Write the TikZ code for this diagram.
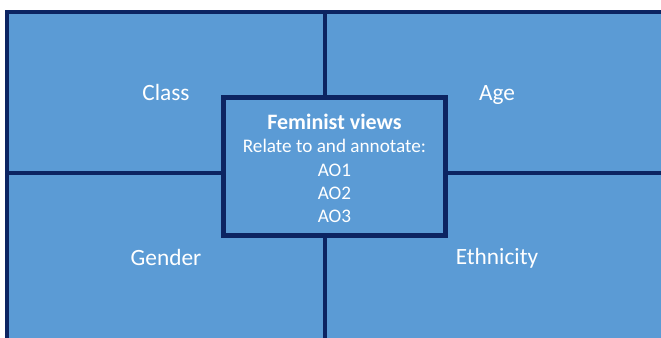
\documentclass[tikz,border=0pt]{standalone}
\usepackage{fontspec}
\setmainfont{Carlito}
\usetikzlibrary{positioning}
\definecolor{panelblue}{HTML}{5B9BD5}
\definecolor{framenavy}{HTML}{0C2462}

\begin{document}
\begin{tikzpicture}[x = 0.75pt, y = -0.75pt, % pixel grid, y downwards
                line join = miter,
                divider/.style = {draw = framenavy, line width = 3pt}
            ]

            \tikzstyle{every node}=[text = white, inner sep = 0pt,
            font = \fontsize{14.4}{17.5}\selectfont]
            \tikzstyle{quadlabel}=[anchor = base,
            font = \fontsize{17.5}{21}\selectfont]
            \tikzstyle{centrebox}=[draw = framenavy, fill = panelblue,
            line width = 3.75pt, align = center, minimum width = 166.5pt,
            minimum height = 103.5pt]

            \useasboundingbox (0,0) rectangle (661,338);
            \clip (0,0) rectangle (661,338);
            \fill[white] (0,0) rectangle (661,338);
            \filldraw[fill = panelblue, divider] (7,12) rectangle (680,360);

            \coordinate (top) at (325,12); \coordinate (bottom) at (325,345);
            \coordinate (left) at (7,173); \coordinate (right) at (670,173);

            \node (class) [quadlabel] at (166,101) {Class}; \node (age)
            [quadlabel] at (497,101) {Age}; \node (gender) [quadlabel] at
            (166,266) {Gender}; \node (ethnicity) [quadlabel] at (497,265)
            {Ethnicity};

            \node (centre) [centrebox] at (334.5,166.5) {};
            \node (views) at (334.5,168.5) [align = center]
            {{\fontsize{16.5}{17.5}\selectfont\bfseries Feminist views}\\Relate
            to and annotate:\\AO1\\AO2\\AO3};

            \path[divider] (top) edge (top |- centre.north); \path[divider]
            (bottom) edge (bottom |- centre.south); \path[divider] (left)
            edge (left -| centre.west); \path[divider] (right) edge (right -|
            centre.east); \end{tikzpicture}
\end{document}
